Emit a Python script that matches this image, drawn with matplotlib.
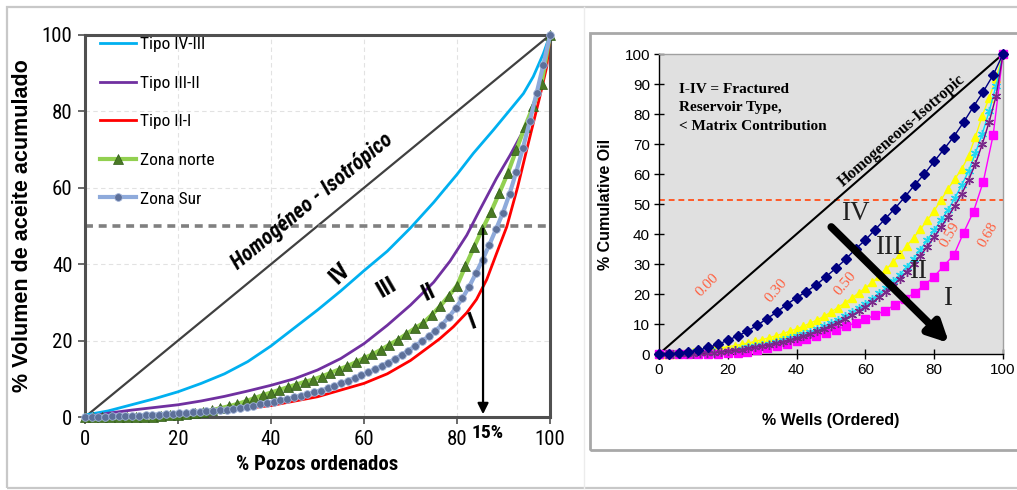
import numpy as np
import matplotlib
matplotlib.use("Agg")
import matplotlib.pyplot as plt
from matplotlib import font_manager as fm
from matplotlib.patches import Rectangle
from matplotlib.lines import Line2D

# ---------------- Left panel data (Lorenz-type curves) ----------------
tipo_iv_iii_x = [0, 5, 10, 15, 20, 25, 30, 35, 40, 45, 50, 55, 60, 65, 70, 75, 77.8, 80, 83.5, 87.8, 91.4, 94.3, 96.4, 98.6, 100]
tipo_iv_iii_y = [0.5, 1.6, 3.2, 4.8, 6.6, 8.8, 11.3, 14.5, 18.6, 23.3, 28.0, 33.0, 38.3, 43.4, 49.5, 56.2, 60.3, 63.5, 69.0, 75.1, 80.4, 84.7, 89.1, 95.2, 100]

tipo_iii_ii_x = [0, 5, 10, 15, 20, 25, 30, 35, 40, 45, 50, 55, 60, 65, 70, 75, 78.5, 82.1, 84.9, 88.5, 91.4, 94.3, 96.4, 97.8, 99.3, 100]
tipo_iii_ii_y = [0, 1.0, 1.8, 2.5, 3.2, 4.2, 5.4, 6.8, 8.3, 10.0, 12.3, 15.3, 19.2, 24.0, 29.3, 35.3, 40.8, 47.6, 54.2, 62.5, 68.5, 75.0, 81.0, 86.5, 94.3, 100]

tipo_ii_i_x = [0, 5, 10, 20, 30, 40, 50, 60, 65, 70, 74, 76.3, 79.2, 82.1, 84.2, 86.4, 88.5, 90.7, 93.0, 95.0, 96.4, 97.8, 99.3, 100]
tipo_ii_i_y = [0, 0.1, 0.3, 0.8, 1.6, 3.0, 5.3, 8.8, 11.3, 14.8, 18.4, 20.5, 23.6, 27.3, 30.8, 36.0, 42.8, 49.8, 60.0, 70.0, 76.9, 83.8, 91.7, 100]

zona_norte_y = [0, 0, 0, 0, 0, 0, 0, 0, 0.1, 0.2, 0.4, 0.6, 0.8, 1.1, 1.4, 1.8, 2.3, 2.8,
                3.4, 4.1, 4.9, 5.7, 6.4, 7.1, 7.8, 8.5, 9.2, 9.8, 10.6, 11.5, 12.4, 13.3,
                14.3, 15.4, 16.4, 17.6, 18.9, 20.2, 21.7, 23.2, 24.6, 26.7, 29.0, 31.6,
                34.4, 39.5, 44.4, 49.2, 53.6, 58.6, 63.8, 69.8, 75.8, 81.3, 87.3, 100]

zona_sur_y = [0, 0, 0.05, 0.1, 0.15, 0.2, 0.25, 0.3, 0.35, 0.45, 0.55, 0.65, 0.75, 0.85,
              0.95, 1.05, 1.2, 1.35, 1.5, 1.65, 1.8, 1.95, 2.15, 2.4, 2.65, 2.95, 3.3, 3.6,
              4.0, 4.35, 4.75, 5.15, 5.6, 6.0, 6.45, 6.9, 7.5, 8.1, 8.8, 9.5, 10.2, 10.9,
              11.7, 12.5, 13.3, 14.2, 15.2, 16.2, 17.4, 18.6, 19.9, 21.1, 22.6, 24.2, 26.2,
              28.5, 31.1, 34.1, 37.6, 41.2, 45.1, 49.2, 53.4, 58.4, 64.2, 70.5, 77.5, 84.7,
              92.1, 100]

left_legend = ["Tipo IV-III", "Tipo III-II", "Tipo II-I", "Zona norte", "Zona Sur"]

# ---------------- Right panel data ----------------
w_030 = [0, 0.1, 0.3, 0.6, 1.2, 2.2, 3.2, 4.6, 6.0, 7.6, 9.6, 11.8, 14.0, 16.5, 18.8, 20.8,
         23.0, 25.8, 28.6, 31.6, 35.0, 38.0, 41.5, 45.0, 48.5, 52.3, 56.3, 60.0, 64.2, 68.3,
         72.5, 77.3, 82.5, 87.5, 93.0, 100]
w_050 = [0, 0, 0.1, 0.2, 0.4, 0.6, 0.9, 1.2, 1.6, 2.0, 2.4, 2.8, 3.2, 3.7, 4.2, 4.8, 5.4,
         6.1, 6.8, 7.6, 8.4, 9.3, 10.3, 11.4, 12.6, 14.0, 15.5, 17.0, 18.6, 20.3, 22.0, 23.9,
         25.9, 28.2, 30.6, 33.2, 36.0, 38.8, 41.6, 44.6, 47.8, 51.4, 55.0, 58.4, 61.7, 66.0,
         72.5, 79.5, 85.5, 92.0, 100]
w_059a = [0, 0, 0, 0.1, 0.1, 0.2, 0.3, 0.4, 0.6, 0.8, 1.1, 1.4, 1.8, 2.2, 2.6, 3.0, 3.5,
          4.0, 4.6, 5.2, 5.9, 6.6, 7.4, 8.3, 9.3, 10.3, 11.4, 12.6, 13.9, 15.3, 16.8, 18.4,
          20.2, 22.1, 24.2, 26.5, 29.0, 31.8, 34.8, 38.0, 41.3, 44.6, 48.0, 52.0, 56.3, 61.0,
          67.0, 73.5, 81.0, 89.5, 100]
w_059b = [0, 0, 0, 0, 0.1, 0.1, 0.2, 0.3, 0.5, 0.7, 0.9, 1.2, 1.5, 1.9, 2.3, 2.7, 3.1,
          3.6, 4.1, 4.7, 5.3, 6.0, 6.8, 7.6, 8.5, 9.5, 10.5, 11.7, 12.9, 14.2, 15.7, 17.2,
          18.9, 20.8, 22.8, 25.0, 27.4, 30.0, 32.8, 35.8, 39.0, 42.3, 45.7, 49.4, 53.4, 58.0,
          63.5, 70.0, 77.5, 86.0, 100]
w_068 = [0, 0, 0, 0, 0, 0, 0.1, 0.2, 0.4, 0.8, 1.4, 2.1, 2.8, 3.5, 4.3, 5.1, 6.0, 7.0,
         8.1, 9.2, 10.4, 11.6, 13.0, 14.5, 16.3, 18.2, 20.4, 23.0, 25.8, 29.5, 33.0, 40.5,
         47.5, 57.5, 73.0, 100]

ratio_labels = ["0.00", "0.30", "0.50", "0.59", "0.68"]


def ranks(values):
    """Percent of wells (ordered) for an evenly ranked series."""
    return np.linspace(0, 100, len(values))


# Pick a narrow sans face for the Spanish panel
_fonts = fm.fontManager.ttflist
_names = {f.name for f in _fonts}
NARROW_KW = None
for cand in ["Liberation Sans Narrow", "Arial Narrow", "Roboto Condensed",
             "Open Sans Condensed", "Noto Sans Condensed"]:
    if cand in _names:
        NARROW_KW = dict(family=[cand, "DejaVu Sans"])
        break
if NARROW_KW is None:
    if any(f.name == "DejaVu Sans" and f.stretch == "condensed" for f in _fonts):
        NARROW_KW = dict(family=["DejaVu Sans"], fontstretch="condensed")
    else:
        NARROW_KW = dict(family=["Roboto", "DejaVu Sans"])

W, H = 1017, 490
fig = plt.figure(figsize=(W / 100, H / 100), dpi=100)
fig.patch.set_facecolor("white")

SERIF = ["Liberation Serif", "DejaVu Serif"]
SANS = ["Liberation Sans", "DejaVu Sans"]


def fbox(x0, y0, x1, y1):
    return [x0 / W, 1 - y1 / H, (x1 - x0) / W, (y1 - y0) / H]


# Frames around the two panels
fig.add_artist(Rectangle((7 / W, 1 - 488 / H), 1.2, (488 - 7) / H, transform=fig.transFigure,
                         fill=False, ec="#c8c8c8", lw=1.6))
fig.add_artist(Line2D([584 / W, 584 / W], [1 - 488 / H, 1 - 7 / H], transform=fig.transFigure,
                      color="#ececec", lw=1))
fig.add_artist(Rectangle((590 / W, 1 - 450 / H), 1.2, (450 - 33) / H, transform=fig.transFigure,
                         fill=False, ec="#a8a8a8", lw=2))

# ======================= Left panel =======================
ax = fig.add_axes(fbox(85, 35, 550, 417))
ax.set_xlim(0, 100)
ax.set_ylim(0, 100)
ax.set_xticks([0, 20, 40, 60, 80, 100])
ax.set_yticks([0, 20, 40, 60, 80, 100])
for v in [20, 40, 60, 80]:
    ax.axvline(v, color="#e2e2e2", lw=0.8, ls=(0, (4, 3)), zorder=0)
    ax.axhline(v, color="#e2e2e2", lw=0.8, ls=(0, (4, 3)), zorder=0)

ax.plot([0, 100], [0, 100], color="#404040", lw=1.6, zorder=2)
ax.axhline(50, color="#808080", lw=2.6, ls=(0, (2.2, 1.6)), zorder=2)

l1, = ax.plot(tipo_iv_iii_x, tipo_iv_iii_y, color="#00b0f0", lw=2, zorder=3, clip_on=False)
l2, = ax.plot(tipo_iii_ii_x, tipo_iii_ii_y, color="#7030a0", lw=2, zorder=3, clip_on=False)
l3, = ax.plot(tipo_ii_i_x, tipo_ii_i_y, color="#ff0000", lw=2, zorder=3, clip_on=False)
l4, = ax.plot(ranks(zona_norte_y), zona_norte_y, color="#92d050", lw=3, marker="^", ms=7,
              mfc="#4a7a25", mec="#2f5a18", mew=0.5, zorder=4, clip_on=False)
l5, = ax.plot(ranks(zona_sur_y), zona_sur_y, color="#8eaadb", lw=3, marker="o", ms=5.5,
              mfc="#5d7099", mec="#9fb2d8", mew=0.6, zorder=5, clip_on=False)

ax.annotate("", xy=(85.6, 0), xytext=(85.6, 50),
            arrowprops=dict(arrowstyle="-|>", color="black", lw=1.6, mutation_scale=16),
            zorder=6)
ax.text(86.5, -4.2, "15%", fontweight="bold", fontsize=14,
        ha="center", va="center", clip_on=False, zorder=7, **NARROW_KW)

ax.text(48.8, 56.5, "Homogéneo - Isotrópico", fontweight="bold",
        fontstyle="italic", fontsize=15.5, rotation=39.4, ha="center", va="center", **NARROW_KW)
for txt, x, y, r in [("IV", 54.8, 37.7, 45), ("III", 64.9, 34.0, 30),
                     ("II", 73.8, 32.5, 25), ("I", 83.2, 25.0, 20)]:
    ax.text(x, y, txt, fontweight="bold", fontsize=17, rotation=r,
            ha="center", va="center", **NARROW_KW)

for s in ax.spines.values():
    s.set_color("#505050")
    s.set_linewidth(2.2)
ax.tick_params(direction="out", length=5, width=1.2, color="#505050",
               labelsize=15, pad=4)
for lab in ax.get_xticklabels() + ax.get_yticklabels():
    lab.set_family(NARROW_KW["family"])
    if "fontstretch" in NARROW_KW:
        lab.set_stretch(NARROW_KW["fontstretch"])
ax.set_xlabel("% Pozos ordenados", fontweight="bold", fontsize=15, labelpad=5, **NARROW_KW)
ax.set_ylabel("% Volumen de aceite acumulado", family=SANS, fontweight="bold", fontsize=15.5,
              labelpad=6)

leg_prop = fm.FontProperties(family=NARROW_KW["family"], size=12.5,
                             stretch=NARROW_KW.get("fontstretch", "normal"))
leg = ax.legend([l1, l2, l3, l4, l5], left_legend, loc="upper left",
                bbox_to_anchor=(100 / W, 1 - 37 / H), bbox_transform=fig.transFigure,
                frameon=False, borderpad=0, borderaxespad=0, labelspacing=1.35,
                handlelength=2.1, handletextpad=0.2, numpoints=1, prop=leg_prop)

# ======================= Right panel =======================
ax2 = fig.add_axes(fbox(659, 54, 1003, 354))
ax2.set_facecolor("#e0e0e0")
ax2.set_xlim(0, 100)
ax2.set_ylim(0, 100)
ax2.set_xticks([0, 20, 40, 60, 80, 100])
ax2.set_yticks(range(0, 101, 10))

ax2.plot([0, 100], [0, 100], color="black", lw=1.5, zorder=3)
ax2.axhline(51.5, color="#ff5a28", lw=1.4, ls=(0, (3, 2)), zorder=2)

ax2.plot(ranks(w_050), w_050, color="#ffff00", lw=1, marker="^", ms=5.5, mfc="#ffff00",
         mec="#ffff00", zorder=4, clip_on=False)
ax2.plot(ranks(w_059a), w_059a, color="#00e0ff", lw=1, marker=(6, 2, 0), ms=6.5,
         mec="#22d8f0", mew=1, zorder=5, clip_on=False)
ax2.plot(ranks(w_059b), w_059b, color="#800080", lw=1, marker=(6, 2, 0), ms=6.5,
         mec="#7a2a8a", mew=1, zorder=6, clip_on=False)
ax2.plot(ranks(w_068), w_068, color="#ff00ff", lw=1, marker="s", ms=5.5, mfc="#ff00ff",
         mec="#ff00ff", zorder=5, clip_on=False)
ax2.plot(ranks(w_030), w_030, color="#000080", lw=1, marker="D", ms=5.3, mfc="#000080",
         mec="#000080", zorder=7, clip_on=False)

ax2.annotate("", xy=(84.9, 3.0), xytext=(49.5, 43.0),
             arrowprops=dict(arrowstyle="-|>", color="black", lw=5.5, mutation_scale=30),
             zorder=8)

ax2.text(5.8, 90.5, "I-IV = Fractured\nReservoir Type,\n< Matrix Contribution",
         family=SERIF, fontweight="bold", fontsize=11, ha="left", va="top",
         linespacing=1.55, zorder=9)
ax2.text(70.5, 74.5, "Homogeneous-Isotropic", family=SERIF, fontweight="bold",
         fontsize=11.5, rotation=41, ha="center", va="center", zorder=9)

for txt, x, y, r in zip(ratio_labels, [13.9, 34.2, 54.1, 84.6, 95.7],
                        [23.0, 21.3, 23.6, 39.7, 39.7], [45, 50, 50, 60, 60]):
    ax2.text(x, y, txt, family=SERIF, fontsize=11, color="#ff6040", rotation=r,
             ha="center", va="center", zorder=9)
for txt, x, y in [("IV", 57.0, 47.0), ("III", 66.7, 35.6), ("II", 75.4, 27.4), ("I", 83.9, 18.6)]:
    ax2.text(x, y, txt, family=SERIF, fontsize=19.5, color="#202020",
             ha="center", va="center", zorder=9)

ax2.spines["left"].set_color("black")
ax2.spines["bottom"].set_color("black")
ax2.spines["top"].set_color("#a0a0a0")
ax2.spines["right"].set_color("#a0a0a0")
for s in ax2.spines.values():
    s.set_linewidth(1)
ax2.tick_params(direction="inout", length=7, width=1, labelsize=11, pad=3)
for lab in ax2.get_xticklabels() + ax2.get_yticklabels():
    lab.set_family(SANS)
ax2.set_xlabel("% Wells (Ordered)", family=SANS, fontweight="bold", fontsize=11.5, labelpad=26)
ax2.set_ylabel("% Cumulative Oil", family=SANS, fontweight="bold", fontsize=11.5, labelpad=8)

fig.savefig("out.png", dpi=100)
